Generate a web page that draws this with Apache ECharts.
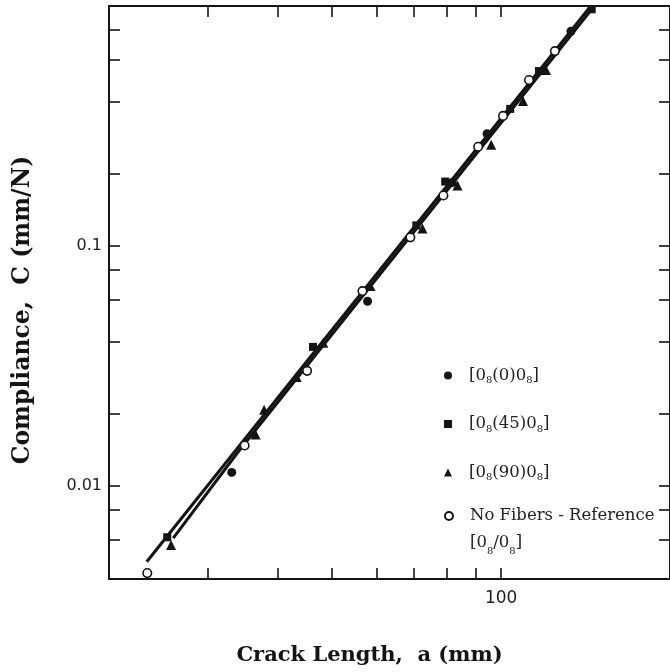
<!DOCTYPE html>
<html>
<head>
<meta charset="utf-8">
<script src="https://cdn.jsdelivr.net/npm/echarts@6/dist/echarts.min.js"></script>
<style>
  html, body { margin: 0; padding: 0; background: #fff; }
  #main { width: 670px; height: 672px; }
</style>
</head>
<body>
<div id="main"></div>
<script>
// crack length a (mm), compliance C (mm/N)
var zeroPts = [[33.1, 0.0114], [57.8, 0.0589], [81.8, 0.1838], [94.4, 0.2935], [133.2, 0.785]];
var fortyFivePts = [[25.4, 0.00612], [46.2, 0.038], [70.6, 0.1219], [79.5, 0.1856], [103.8, 0.3727], [116.8, 0.5358], [145, 0.969]];
var ninetyPts = [[25.8, 0.00568], [36.5, 0.0164], [37.8, 0.0208], [43.2, 0.0285], [48.2, 0.0395], [58.5, 0.0681], [72.4, 0.1184], [83.6, 0.1786], [96, 0.2642], [109.4, 0.4023], [120.2, 0.541]];
var refPts = [[23.4, 0.00434], [34.9, 0.01475], [45.1, 0.0302], [56.6, 0.0649], [68.9, 0.1087], [78.9, 0.1623], [91, 0.2593], [100.8, 0.3485], [112.1, 0.4916], [124.7, 0.6487]];
// fitted lines
var fitLine = [[23.35, 0.00484], [144.5, 1]];
var refFitLine = [[26.03, 0.00607], [34.02, 0.01393], [146.6, 1]];

var xTicks = [30, 40, 50, 60, 70, 80, 90, 100];
var xLabels = [100];
var yTicks = [0.006, 0.008, 0.01, 0.02, 0.04, 0.06, 0.08, 0.1, 0.2, 0.4, 0.6, 0.8];
var yLabels = [0.01, 0.1];

var names = ['[0(0)0]', '[0(45)0]', '[0(90)0]', 'No Fibers - Reference'];
var legendText = {
  '[0(0)0]': '{g| }{n|[0}{s|8}{n|(0)0}{s|8}{n|]}',
  '[0(45)0]': '{g| }{n|[0}{s|8}{n|(45)0}{s|8}{n|]}',
  '[0(90)0]': '{g| }{n|[0}{s|8}{n|(90)0}{s|8}{n|]}',
  'No Fibers - Reference': '{p| }\n{g| }{m|No Fibers - Reference}\n{g| }{m|[0}{t|8}{m|/0}{t|8}{m|]}'
};

var ink = '#141414';
var serif = 'DejaVu Serif';

var tickStyle = { inside: true, length: 11, lineStyle: { color: ink, width: 1.6 } };
var lineStyle = { color: ink, width: 2 };

var myChart = echarts.init(document.getElementById('main'));

var legendBase = {
  orient: 'vertical',
  left: 444,
  padding: 0,
  itemWidth: 8,
  itemHeight: 8,
  itemGap: 30,
  selectedMode: false,
  formatter: function (name) { return legendText[name]; },
  textStyle: {
    color: '#222',
    fontFamily: serif,
    rich: {
      g: { width: 12, fontSize: 16 },
      n: { fontFamily: serif, fontSize: 16.5, lineHeight: 20, color: '#222' },
      s: { fontFamily: serif, fontSize: 10, lineHeight: 9, verticalAlign: 'bottom', color: '#222' },
      p: { fontSize: 16, lineHeight: 27 },
      m: { fontFamily: serif, fontSize: 16.5, lineHeight: 27, color: '#222' },
      t: { fontFamily: serif, fontSize: 10, lineHeight: 15, verticalAlign: 'bottom', color: '#222' }
    }
  }
};

var option = {
  backgroundColor: '#fff',
  animation: false,
  grid: { left: 109, top: 6, width: 563, height: 573 },
  legend: [
    Object.assign({}, legendBase, { top: 367, data: names.slice(0, 3) }),
    Object.assign({}, legendBase, { top: 481, data: names.slice(3) })
  ],
  xAxis: [{
    type: 'log',
    position: 'bottom',
    min: 20,
    max: 200,
    axisLine: { lineStyle: lineStyle },
    axisTick: Object.assign({ customValues: xTicks }, tickStyle),
    axisLabel: {
      customValues: xLabels,
      margin: 11,
      color: '#222',
      fontFamily: 'DejaVu Sans',
      fontSize: 17
    },
    splitLine: { show: false },
    name: 'Crack Length,  a (mm)',
    nameLocation: 'middle',
    nameGap: 66,
    nameTextStyle: { fontFamily: serif, fontWeight: 'bold', fontSize: 21, color: ink, padding: [0, 40, 0, 0] }
  }, {
    type: 'log',
    position: 'top',
    min: 20,
    max: 200,
    axisLine: { lineStyle: lineStyle },
    axisTick: Object.assign({ customValues: xTicks }, tickStyle),
    axisLabel: { show: false },
    splitLine: { show: false }
  }],
  yAxis: [{
    type: 'log',
    position: 'left',
    min: 0.0041,
    max: 1,
    axisLine: { lineStyle: lineStyle },
    axisTick: Object.assign({ customValues: yTicks }, tickStyle),
    axisLabel: {
      customValues: yLabels,
      margin: 7,
      color: '#222',
      fontFamily: 'DejaVu Sans',
      fontSize: 16,
      formatter: function (v) { return String(v); }
    },
    splitLine: { show: false },
    name: 'Compliance,  C (mm/N)',
    nameLocation: 'middle',
    nameRotate: 90,
    nameGap: 74,
    nameTextStyle: { fontFamily: serif, fontWeight: 'bold', fontSize: 23.5, color: ink, padding: [0, 35, 0, 0] }
  }, {
    type: 'log',
    position: 'right',
    min: 0.0041,
    max: 1,
    axisLine: { lineStyle: lineStyle },
    axisTick: Object.assign({ customValues: yTicks }, tickStyle),
    axisLabel: { show: false },
    splitLine: { show: false }
  }],
  series: [{
    name: 'fit',
    type: 'line',
    data: fitLine,
    symbol: 'none',
    silent: true,
    lineStyle: { color: ink, width: 3 },
    z: 1
  }, {
    name: 'ref fit',
    type: 'line',
    data: refFitLine,
    symbol: 'none',
    silent: true,
    lineStyle: { color: ink, width: 3 },
    z: 1
  }, {
    name: names[0],
    type: 'scatter',
    data: zeroPts,
    symbol: 'circle',
    symbolSize: 9,
    itemStyle: { color: ink, opacity: 1 },
    z: 3
  }, {
    name: names[1],
    type: 'scatter',
    data: fortyFivePts,
    symbol: 'rect',
    symbolSize: 8,
    itemStyle: { color: ink, opacity: 1 },
    z: 3
  }, {
    name: names[2],
    type: 'scatter',
    data: ninetyPts,
    symbol: 'triangle',
    symbolSize: 10,
    itemStyle: { color: ink, opacity: 1 },
    z: 3
  }, {
    name: names[3],
    type: 'scatter',
    data: refPts,
    symbol: 'circle',
    symbolSize: 8.5,
    itemStyle: { color: '#fff', borderColor: ink, borderWidth: 1.6, opacity: 1 },
    z: 4
  }]
};
myChart.setOption(option);
</script>
</body>
</html>
